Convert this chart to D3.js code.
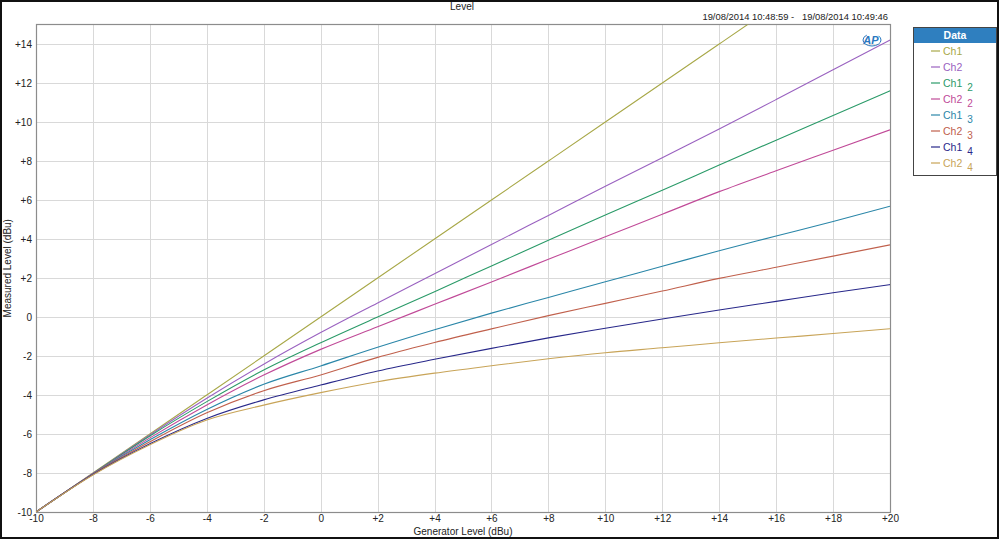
<!DOCTYPE html>
<html><head><meta charset="utf-8">
<script src="https://cdn.jsdelivr.net/npm/d3@7"></script>
<style>
html,body{margin:0;padding:0;background:#fff;}
svg{display:block;font-family:"Liberation Sans",Arial,sans-serif;}
</style></head>
<body>
<svg id="chart" width="1000" height="540"></svg>
<script>
const xValues = [-10,-8,-6,-4,-2,0,2,4,6,8,10,12,14,16,18,20];
const ch1   = [-10,-8,-6,-4,-2,0,2,4,6,8,10,12,14,16,18,20];
const ch2   = [-10,-8.02,-6.05,-4.17,-2.42,-0.8,0.72,2.22,3.72,5.21,6.7,8.17,9.64,11.15,12.68,14.2];
const ch1_2 = [-10,-8.03,-6.1,-4.34,-2.72,-1.32,0.0,1.3,2.62,3.93,5.23,6.5,7.79,9.07,10.33,11.6];
const ch2_2 = [-10,-8.04,-6.2,-4.51,-2.98,-1.66,-0.5,0.65,1.8,2.96,4.12,5.27,6.43,7.5,8.55,9.6];
const ch1_3 = [-10,-8.05,-6.3,-4.74,-3.45,-2.51,-1.55,-0.65,0.2,1.0,1.81,2.6,3.4,4.15,4.9,5.68];
const ch2_3 = [-10,-8.06,-6.4,-4.91,-3.78,-2.97,-2.07,-1.31,-0.61,0.07,0.7,1.33,1.98,2.55,3.12,3.7];
const ch1_4 = [-10,-8.08,-6.5,-5.2,-4.25,-3.49,-2.77,-2.17,-1.61,-1.07,-0.58,-0.1,0.36,0.8,1.24,1.66];
const ch2_4 = [-10,-8.1,-6.55,-5.28,-4.52,-3.88,-3.32,-2.88,-2.5,-2.14,-1.83,-1.58,-1.32,-1.08,-0.85,-0.6];

const seriesNames = ["Ch1","Ch2","Ch1","Ch2","Ch1","Ch2","Ch1","Ch2"];
const seriesSubs  = ["","","2","2","3","3","4","4"];
const seriesColors = ["#a8a848","#9a62c0","#2a9a68","#c04a98","#2a86a8","#c0604c","#28288a","#c8a458"];
const seriesData = [ch1,ch2,ch1_2,ch2_2,ch1_3,ch2_3,ch1_4,ch2_4];

const xTicks = [-10,-8,-6,-4,-2,0,2,4,6,8,10,12,14,16,18,20];
const yTicks = [-10,-8,-6,-4,-2,0,2,4,6,8,10,12,14];
const titleText = "Level";
const timeText = "19/08/2014 10:48:59 -   19/08/2014 10:49:46";
const xLabel = "Generator Level (dBu)";
const yLabel = "Measured Level (dBu)";
const legendTitle = "Data";

const svg = d3.select("#chart");
const L = 36, R = 890, T = 24.5, B = 512;
const x = d3.scaleLinear().domain([-10,20]).range([L,R]);
const y = d3.scaleLinear().domain([-10,15]).range([B,T]);
const fmt = v => v > 0 ? "+" + v : String(v);

// outer frame
svg.append("rect").attr("x",1).attr("y",1).attr("width",997).attr("height",537)
  .attr("fill","#fff").attr("stroke","#111").attr("stroke-width",2);

// grid
const grid = svg.append("g");
grid.selectAll(".gx").data(xTicks.slice(1,-1)).join("line")
  .attr("x1",d=>Math.round(x(d))+0.5).attr("x2",d=>Math.round(x(d))+0.5)
  .attr("y1",T).attr("y2",B).attr("stroke","#d9d9d9").attr("stroke-width",1);
grid.selectAll(".gy").data(yTicks.slice(1)).join("line")
  .attr("y1",d=>Math.round(y(d))+0.5).attr("y2",d=>Math.round(y(d))+0.5)
  .attr("x1",L).attr("x2",R).attr("stroke","#d9d9d9").attr("stroke-width",1);

// axes
const xAxis = d3.axisBottom(x).tickValues(xTicks).tickFormat(fmt).tickSize(0).tickPadding(3);
const yAxis = d3.axisLeft(y).tickValues(yTicks).tickFormat(fmt).tickSize(0).tickPadding(4);
const gx = svg.append("g").attr("transform",`translate(0,${B})`).call(xAxis);
const gy = svg.append("g").attr("transform",`translate(${L},0)`).call(yAxis);
[gx,gy].forEach(g=>{
  g.select(".domain").remove();
  g.selectAll("text").attr("font-size",10).attr("fill","#222")
   .attr("font-family","'Liberation Sans',Arial,sans-serif");
});
gy.selectAll("text").attr("dy","0.35em");

// plot frame
svg.append("rect").attr("x",L+0.5).attr("y",T).attr("width",R-L).attr("height",B-T+0.5)
  .attr("fill","none").attr("stroke","#8c8c8c").attr("stroke-width",1.2);

// lines
svg.append("clipPath").attr("id","clip").append("rect")
  .attr("x",L).attr("y",T).attr("width",R-L).attr("height",B-T);
const line = d3.line().x((d,i)=>x(xValues[i])).y(d=>y(d)).curve(d3.curveMonotoneX);
svg.append("g").attr("clip-path","url(#clip)")
  .selectAll("path").data(seriesData).join("path")
  .attr("d",line).attr("fill","none")
  .attr("stroke",(d,i)=>seriesColors[i]).attr("stroke-width",1.1);

// AP logo
const logo = svg.append("g").attr("transform","translate(871,40)");
logo.append("ellipse").attr("cx",1).attr("cy",0).attr("rx",9).attr("ry",6)
  .attr("fill","none").attr("stroke","#2a78c0").attr("stroke-width",1)
  .attr("stroke-dasharray","30 12");
logo.append("text").attr("x",0).attr("y",4).attr("text-anchor","middle")
  .attr("font-size",11).attr("font-style","italic").attr("font-weight","bold")
  .attr("fill","#2a78c0").text("AP");

// titles
svg.append("text").attr("x",462).attr("y",10).attr("text-anchor","middle")
  .attr("font-size",10).attr("fill","#222").text(titleText);
svg.append("text").attr("x",888).attr("y",20).attr("text-anchor","end")
  .attr("font-size",9.4).attr("fill","#222").style("white-space","pre").text(timeText);
svg.append("text").attr("x",(L+R)/2).attr("y",535).attr("text-anchor","middle")
  .attr("font-size",10).attr("fill","#222").text(xLabel);
svg.append("text").attr("transform",`translate(11,${(T+B)/2}) rotate(-90)`)
  .attr("text-anchor","middle").attr("font-size",10).attr("fill","#222").text(yLabel);

// legend
const lg = svg.append("g").attr("transform","translate(913,27)");
lg.append("rect").attr("x",0.5).attr("y",0.5).attr("width",83).attr("height",148)
  .attr("fill","#fff").attr("stroke","#444").attr("stroke-width",1);
lg.append("rect").attr("x",1).attr("y",1).attr("width",82).attr("height",15).attr("fill","#2f7fbf");
lg.append("text").attr("x",42).attr("y",12).attr("text-anchor","middle")
  .attr("font-size",10.5).attr("font-weight","bold").attr("fill","#fff").text(legendTitle);
const items = lg.selectAll(".it").data(seriesNames).join("g")
  .attr("transform",(d,i)=>`translate(0,${24+i*16})`);
items.append("line").attr("x1",18).attr("x2",27).attr("y1",0).attr("y2",0)
  .attr("stroke",(d,i)=>seriesColors[i]).attr("stroke-width",1.2);
items.append("text").attr("x",30).attr("y",4).attr("font-size",10.5)
  .attr("fill",(d,i)=>seriesColors[i])
  .each(function(d,i){
    const t = d3.select(this);
    t.append("tspan").text(d);
    if (seriesSubs[i]) t.append("tspan").attr("dx",5).attr("dy",4).attr("font-size",10).text(seriesSubs[i]);
  });
</script>
</body></html>
